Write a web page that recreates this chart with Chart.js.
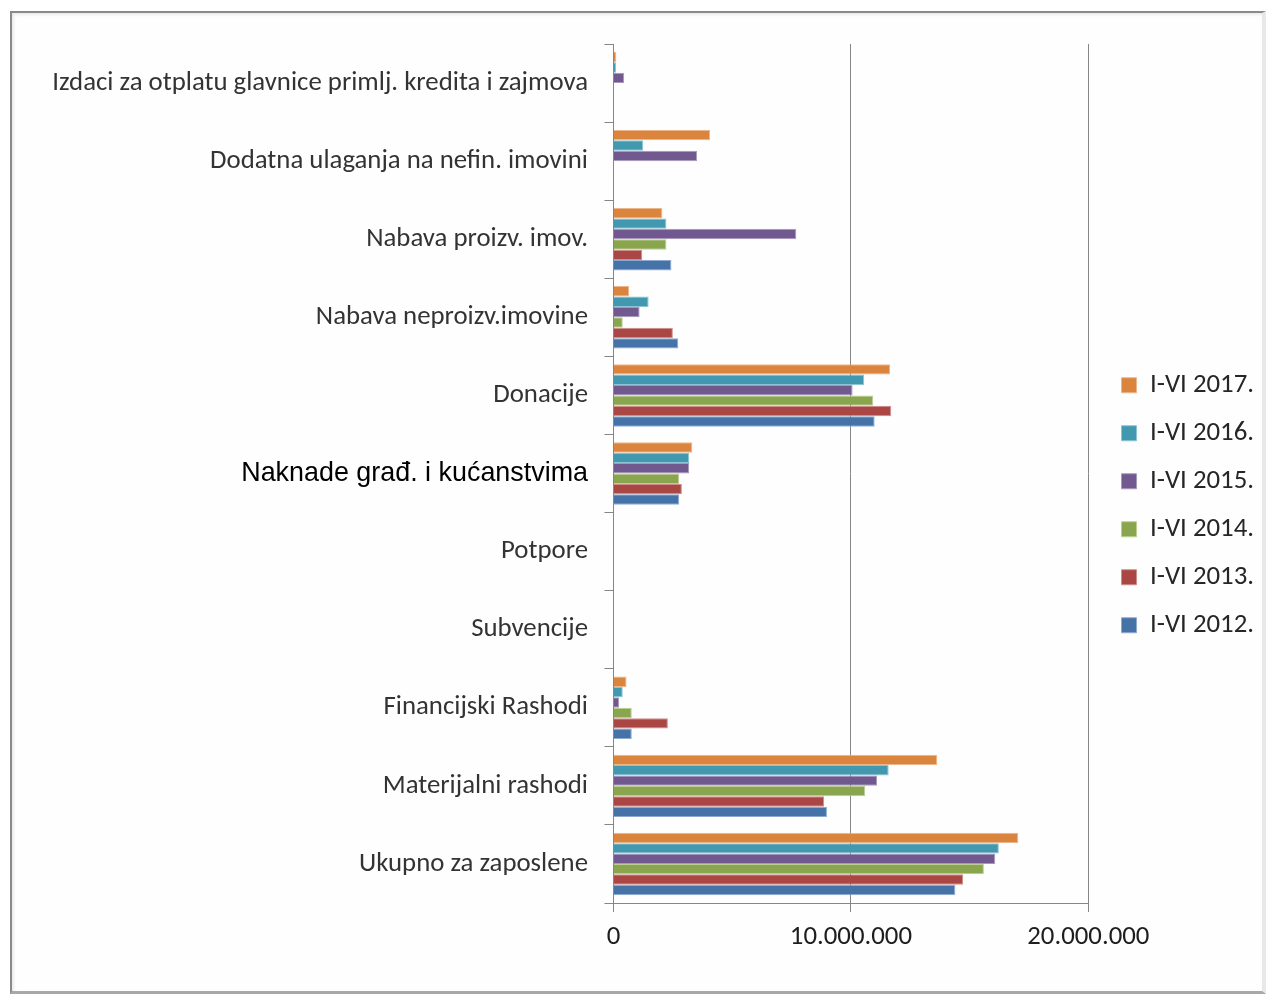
<!DOCTYPE html>
<html>
<head>
<meta charset="utf-8">
<title>Rashodi I-VI 2012.-2017.</title>
<script src="https://cdn.jsdelivr.net/npm/chart.js@4.4.1/dist/chart.umd.min.js"></script>
<style>
    html, body { margin: 0; padding: 0; background: #ffffff; }
    .frame {
        position: absolute;
        left: 10px; top: 11px;
        width: 1250px; height: 978px;
        background: #fefefe;
        border-left: 2px solid #8a8a8a;
        border-top: 2px solid #8a8a8a;
        border-bottom: 3px solid #a8a8a8;
        border-right: 4px solid #e8e8e8;
        box-shadow: inset 2px 2px 3px rgba(0,0,0,0.08);
    }
    .chart-box {
        position: absolute;
        left: 0; top: 0;
        width: 1266px; height: 994px;
    }
</style>
</head>
<body>
<div class="frame"></div>
<div class="chart-box"><canvas id="rashodiChart"></canvas></div>
<script>
// Kategorije (odozgo prema dolje)
const categories = [
    "Izdaci za otplatu glavnice primlj. kredita i zajmova",
    "Dodatna ulaganja na nefin. imovini",
    "Nabava proizv. imov.",
    "Nabava neproizv.imovine",
    "Donacije",
    "Naknade građ. i kućanstvima",
    "Potpore",
    "Subvencije",
    "Financijski Rashodi",
    "Materijalni rashodi",
    "Ukupno za zaposlene"
];

// Razdoblja (redoslijed legende)
const periods = ["I-VI 2017.", "I-VI 2016.", "I-VI 2015.", "I-VI 2014.", "I-VI 2013.", "I-VI 2012."];

// Iznosi po razdobljima (procjena s grafikona)
const values2017 = [120000, 4070000, 2060000, 660000, 11650000, 3320000, null, null, 550000, 13640000, 17050000];
const values2016 = [110000, 1250000, 2230000, 1480000, 10560000, 3190000, null, null, 390000, 11590000, 16230000];
const values2015 = [450000, 3520000, 7700000, 1100000, 10070000, 3190000, null, null, 240000, 11100000, 16080000];
const values2014 = [null, null, 2230000, 390000, 10940000, 2770000, null, null, 770000, 10600000, 15600000];
const values2013 = [null, null, 1210000, 2500000, 11700000, 2880000, null, null, 2290000, 8870000, 14730000];
const values2012 = [null, null, 2440000, 2730000, 11000000, 2770000, null, null, 770000, 8990000, 14400000];

const seriesValues = [values2017, values2016, values2015, values2014, values2013, values2012];
const seriesColors = ['#DB843D', '#4198AF', '#71588F', '#89A54E', '#AA4643', '#4572A7'];
const seriesBorders = ['#ECB58A', '#8DC4D3', '#A897BD', '#BBCF95', '#CF8D8B', '#8EAAD0'];

// Oznake osi X
const xTicks = [0, 10000000, 20000000];

const formatNumber = (v) => String(v).replace(/\B(?=(\d{3})+(?!\d))/g, '.');

const baseFont = { family: 'Carlito, "Liberation Sans", sans-serif', size: 26.8 };
const highlightIndex = categories.indexOf("Naknade građ. i kućanstvima");
const axisGray = '#868686';

// pomak legende udesno (da ne mijenja širinu područja crtanja)
const legendShift = {
    id: 'legendShift',
    afterLayout(chart) {
        chart.legend.left += 12;
        chart.legend.right += 12;
    }
};

const ctx = document.getElementById('rashodiChart').getContext('2d');

new Chart(ctx, {
    type: 'bar',
    data: {
        labels: categories,
        datasets: periods.map((p, i) => ({
            label: p,
            data: seriesValues[i],
            backgroundColor: seriesColors[i],
            borderColor: seriesBorders[i],
            borderWidth: 1,
            categoryPercentage: 0.8,
            barPercentage: 1.0
        }))
    },
    options: {
        indexAxis: 'y',
        responsive: true,
        maintainAspectRatio: false,
        animation: false,
        layout: { padding: { top: 44, left: 20, right: 14, bottom: 27.5 } },
        plugins: {
            tooltip: { enabled: false },
            legend: {
                position: 'right',
                labels: {
                    font: baseFont,
                    color: '#262626',
                    boxWidth: 15,
                    boxHeight: 15,
                    padding: 21.2
                }
            }
        },
        scales: {
            x: {
                min: 0,
                max: 20000000,
                afterBuildTicks: (scale) => { scale.ticks = xTicks.map(v => ({ value: v })); },
                afterFit: (scale) => { scale.height = 63.5; },
                ticks: {
                    font: baseFont,
                    color: '#1e1e1e',
                    padding: 9,
                    maxRotation: 0,
                    callback: (v) => formatNumber(v)
                },
                grid: { color: axisGray, lineWidth: 1, tickLength: 9, drawTicks: true },
                border: { color: axisGray, width: 1 }
            },
            y: {
                afterFit: (scale) => { scale.width = 593.5; },
                ticks: {
                    padding: 16.5,
                    autoSkip: false,
                    font: (c) => c.index === highlightIndex
                        ? { family: '"Liberation Sans", Arial, sans-serif', size: 26.9 }
                        : baseFont,
                    color: (c) => c.index === highlightIndex ? '#000000' : '#333333'
                },
                grid: { offset: true, drawOnChartArea: false, drawTicks: true, tickLength: 9, color: axisGray },
                border: { color: axisGray, width: 1 }
            }
        }
    },
    plugins: [legendShift]
});
</script>
</body>
</html>
